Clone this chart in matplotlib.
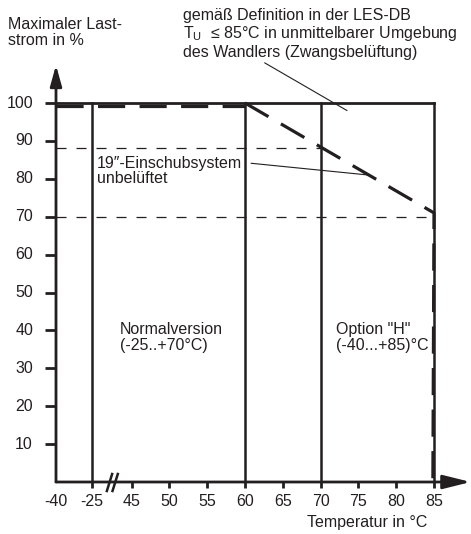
import numpy as np
import matplotlib
matplotlib.use("Agg")
import matplotlib.pyplot as plt

plt.rcParams['font.family'] = ['Liberation Sans', 'DejaVu Sans']

# ---- data ----
tick_temps = [-40, -25, 45, 50, 55, 60, 65, 70, 75, 80, 85]
tick_pos = [0, 0.95, 2, 3, 4, 5, 6, 7, 8, 9, 10]
tick_labels = ["-40", "-25", "45", "50", "55", "60", "65", "70", "75", "80", "85"]
y_ticks = [10, 20, 30, 40, 50, 60, 70, 80, 90, 100]

zone_bounds = [-25, 60, 70]          # solid vertical separators
box_top = 100
box_left, box_right = -40, 85
base_level = 99.3                    # thick dashed, full load
base_temps = [-40, 60]
derate_temps = [60, 85, 85]
derate_vals = [100, 71, 0]
rack_levels = [88, 70]               # thin dashed, 19" rack unventilated
rack_ends = [70, 85]

W, H = 471, 534
fig = plt.figure(figsize=(W / 100, H / 100), dpi=100)
fig.patch.set_facecolor('white')

px_x = 37.8
px_y = 3.79
x0, y0 = 56, 52
xmax, ymax = 11.0, 115
ax = fig.add_axes([x0 / W, y0 / H, xmax * px_x / W, ymax * px_y / H])
ax.set_xlim(0, xmax)
ax.set_ylim(0, ymax)
ax.axis('off')


def tp(t):
    return np.interp(t, tick_temps, tick_pos)


def fpx(x, y):
    return x / W, 1 - y / H


k = '#231f20'
fs = 11.5

# axes with arrows
ax.annotate('', xy=(0, 110), xytext=(0, 0),
            arrowprops=dict(arrowstyle='-|>,head_length=0.9,head_width=0.25',
                            lw=2.0, color=k, shrinkA=0, shrinkB=0, mutation_scale=14))
ax.annotate('', xy=(10.97, 0), xytext=(0, 0),
            arrowprops=dict(arrowstyle='-|>,head_length=1.2,head_width=0.3',
                            lw=2.0, color=k, shrinkA=0, shrinkB=0, mutation_scale=14))

# y ticks
for v in y_ticks:
    ax.plot([-11 / px_x, 0], [v, v], color=k, lw=2.0, solid_capstyle='butt', clip_on=False)
    ax.text(-23 / px_x, v, str(v), ha='right', va='center', fontsize=fs, color=k)

# x ticks
for t, lab in zip(tick_temps, tick_labels):
    p = tp(t)
    if t != -40:
        ax.plot([p, p], [0, -6 / px_y], color=k, lw=2.0, solid_capstyle='butt', clip_on=False)
    ax.text(p, -20 / px_y, lab, ha='center', va='center', fontsize=fs, color=k)

# axis break marks
bp = (tp(-25) + tp(45)) / 2
for d in (-0.06, 0.09):
    ax.plot([bp + d - 0.07, bp + d + 0.07], [-9 / px_y, 8 / px_y], color=k, lw=1.8,
            clip_on=False)

# box
ax.plot([tp(box_left), tp(box_right)], [box_top, box_top], color=k, lw=2.0,
        solid_capstyle='projecting')
ax.plot([tp(box_right), tp(box_right)], [0, box_top], color=k, lw=1.8)
for t in zone_bounds:
    ax.plot([tp(t), tp(t)], [0, box_top], color=k, lw=1.8)

# thin dashed rack lines
for lvl, te in zip(rack_levels, rack_ends):
    ax.plot([tp(box_left), tp(te)], [lvl, lvl], color=k, lw=0.9, dashes=(8, 8))

# thick dashed derating curve
ax.plot(tp(np.array(base_temps)), [base_level, base_level], color=k, lw=2.3,
        dashes=(8.5, 4.5))
ax.plot(tp(np.array(derate_temps)) - np.array([0, 0, 0.03]), derate_vals, color=k, lw=2.3,
        dashes=(8.5, 4.5))

# annotation leader lines
ax.annotate('', xy=(tp(73.5), 98), xytext=(tp(62.6), 110.6),
            arrowprops=dict(arrowstyle='-', lw=0.8, color=k, shrinkA=0, shrinkB=0),
            annotation_clip=False)
ax.annotate('', xy=(tp(76.3), 81), xytext=(tp(60.8), 84.1),
            arrowprops=dict(arrowstyle='-', lw=0.8, color=k, shrinkA=0, shrinkB=0))

# texts (va='baseline' on multi-line text aligns the last line)
fig.text(*fpx(8, 45), "Maximaler Last-\nstrom in %", ha='left', va='baseline',
         fontsize=fs, color=k, linespacing=1.05)
fig.text(*fpx(183, 20), "gemäß Definition in der LES-DB", ha='left', va='baseline',
         fontsize=fs, color=k)
fig.text(*fpx(183, 38), r"T$_{\mathregular{U}}$  ≤ 85°C in unmittelbarer Umgebung",
         ha='left', va='baseline', fontsize=fs, color=k)
fig.text(*fpx(183, 57), "des Wandlers (Zwangsbelüftung)", ha='left', va='baseline',
         fontsize=fs, color=k)
fig.text(*fpx(97, 183), "19″-Einschubsystem\nunbelüftet", ha='left', va='baseline',
         fontsize=fs, color=k, linespacing=1.0)
fig.text(*fpx(120, 350), "Normalversion\n(-25..+70°C)", ha='left', va='baseline',
         fontsize=fs, color=k, linespacing=1.1)
fig.text(*fpx(336, 350), "Option \"H\"\n(-40...+85)°C", ha='left', va='baseline',
         fontsize=fs, color=k, linespacing=1.1)
fig.text(*fpx(307, 527), "Temperatur in °C", ha='left', va='baseline',
         fontsize=fs, color=k)

fig.savefig("out.png", dpi=100, facecolor='white')
